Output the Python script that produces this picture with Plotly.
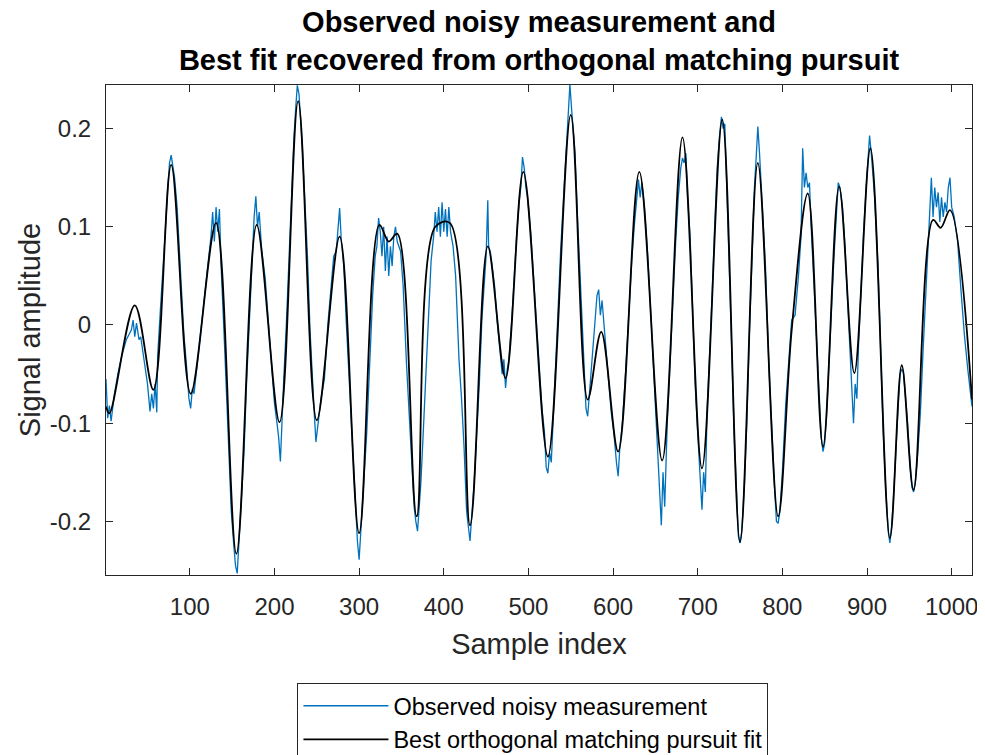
import plotly.graph_objects as go

# black curve: turning points of the OMP fit
fit_x = [1, 5, 35, 57, 78, 101, 131, 155, 179, 206, 228, 250, 277, 300, 324, 335, 345,
         368, 390, 407, 431, 452, 473, 494, 523, 550, 570, 586, 606, 631, 658, 682, 705,
         729, 750, 771, 795, 811, 830, 848, 867, 885, 904, 927, 941, 955, 978, 987, 998, 1024]
fit_y = [-0.083, -0.090, 0.020, -0.066, 0.163, -0.070, 0.104, -0.233, 0.102, -0.099,
         0.228, -0.097, 0.090, -0.212, 0.102, 0.085, 0.093, -0.195, 0.100, 0.104,
         -0.204, 0.080, -0.054, 0.156, -0.134, 0.214, -0.076, -0.007, -0.129, 0.156,
         -0.138, 0.191, -0.146, 0.209, -0.221, 0.165, -0.195, -0.005, 0.134, -0.124,
         0.141, -0.049, 0.180, -0.217, -0.041, -0.168, 0.107, 0.099, 0.117, -0.076]

# blue curve: noisy measurement, estimated sample by sample from the figure
obs_x = [1, 3, 5, 7, 11, 15, 20, 25, 28, 31, 33, 35, 37, 40, 42, 46, 50, 53, 55, 57, 59, 61,
         62, 65, 68, 71, 74, 76, 78, 80, 82, 85, 89, 93, 96, 99, 101, 103, 105, 110, 116,
         121, 125, 127, 129, 131, 133, 135, 137, 141, 145, 149, 152, 154, 156, 158, 160,
         164, 167, 171, 174, 176, 178, 180, 182, 185, 189, 193, 197, 200, 203, 205, 207,
         209, 211, 214, 217, 220, 223, 225, 227, 229, 231, 233, 236, 239, 242, 245, 247,
         249, 251, 253, 255, 259, 263, 267, 270, 273, 275, 277, 279, 282, 285, 289, 292,
         295, 298, 300, 302, 305, 309, 312, 316, 319, 321, 323, 325, 327, 329, 331, 333,
         335, 337, 339, 341, 343, 345, 349, 352, 356, 359, 362, 365, 367, 369, 371, 373,
         376, 379, 382, 385, 388, 390, 392, 394, 396, 398, 400, 402, 404, 406, 408, 411,
         414, 418, 421, 424, 427, 429, 431, 433, 436, 439, 442, 445, 448, 450, 452, 453,
         455, 457, 460, 463, 466, 469, 471, 473, 475, 477, 480, 483, 486, 489, 491, 493,
         495, 497, 499, 503, 508, 512, 516, 519, 521, 523, 525, 527, 530, 534, 538, 541,
         544, 547, 549, 551, 553, 555, 558, 561, 564, 566, 568, 570, 572, 575, 578, 581,
         583, 585, 587, 590, 594, 598, 601, 604, 606, 608, 611, 615, 619, 622, 625, 628,
         630, 632, 634, 637, 641, 645, 649, 652, 655, 657, 659, 661, 664, 668, 671, 674,
         677, 680, 682, 684, 686, 688, 691, 694, 697, 700, 703, 705, 707, 709, 711, 714,
         717, 720, 723, 726, 728, 730, 732, 734, 737, 740, 743, 746, 748, 750, 752, 755,
         758, 761, 764, 767, 769, 771, 773, 776, 780, 784, 788, 791, 793, 795, 797, 800,
         804, 808, 811, 815, 819, 822, 824, 826, 828, 830, 832, 834, 837, 840, 843, 846,
         848, 850, 852, 855, 858, 861, 864, 866, 868, 871, 874, 877, 880, 882, 884, 886,
         888, 890, 893, 896, 899, 901, 903, 905, 909, 913, 916, 919, 922, 925, 927, 929,
         931, 934, 937, 939, 941, 943, 945, 948, 951, 953, 955, 957, 960, 963, 966, 969,
         972, 974, 976, 978, 980, 982, 984, 986, 988, 990, 992, 994, 996, 998, 1000, 1003,
         1007, 1011, 1015, 1019, 1022, 1024]
obs_y = [-0.055, -0.095, -0.082, -0.098, -0.070, -0.050, -0.030, -0.015, -0.010, -0.005,
         0.005, -0.012, 0.002, -0.015, -0.012, -0.035, -0.060, -0.088, -0.070, -0.085,
         -0.060, -0.089, -0.032, 0.012, 0.050, 0.095, 0.140, 0.165, 0.173, 0.160, 0.150,
         0.120, 0.050, -0.010, -0.040, -0.075, -0.085, -0.065, -0.070, -0.030, 0.020,
         0.065, 0.090, 0.115, 0.085, 0.120, 0.095, 0.118, 0.060, -0.020, -0.110, -0.190,
         -0.225, -0.245, -0.253, -0.225, -0.195, -0.130, -0.060, 0.020, 0.075, 0.110,
         0.131, 0.100, 0.115, 0.075, 0.048, 0.000, -0.050, -0.080, -0.100, -0.115, -0.139,
         -0.090, -0.055, 0.000, 0.070, 0.130, 0.190, 0.220, 0.244, 0.235, 0.210, 0.180,
         0.125, 0.070, -0.005, -0.065, -0.090, -0.119, -0.105, -0.085, -0.075, -0.055,
         0.000, 0.040, 0.070, 0.075, 0.095, 0.119, 0.085, 0.060, 0.000, -0.070, -0.130,
         -0.175, -0.220, -0.239, -0.210, -0.175, -0.110, -0.050, 0.030, 0.070, 0.080,
         0.109, 0.095, 0.070, 0.100, 0.055, 0.090, 0.050, 0.080, 0.060, 0.090, 0.100,
         0.085, 0.075, 0.040, -0.040, -0.090, -0.140, -0.185, -0.200, -0.210, -0.185,
         -0.160, -0.105, -0.045, 0.020, 0.065, 0.090, 0.115, 0.095, 0.120, 0.090, 0.125,
         0.095, 0.118, 0.090, 0.120, 0.095, 0.080, 0.050, -0.035, -0.075, -0.125, -0.190,
         -0.205, -0.220, -0.195, -0.160, -0.110, -0.060, 0.005, 0.050, 0.070, 0.127,
         0.080, 0.075, 0.060, 0.040, 0.005, -0.025, -0.050, -0.035, -0.064, -0.045,
         -0.035, 0.000, 0.050, 0.090, 0.125, 0.140, 0.171, 0.160, 0.140, 0.130, 0.090,
         0.020, -0.040, -0.085, -0.110, -0.145, -0.151, -0.130, -0.140, -0.075, -0.005,
         0.075, 0.120, 0.170, 0.205, 0.245, 0.220, 0.200, 0.175, 0.110, 0.055, 0.000,
         -0.040, -0.085, -0.093, -0.070, -0.040, -0.010, 0.030, 0.036, 0.010, 0.025,
         -0.010, -0.050, -0.090, -0.110, -0.140, -0.154, -0.125, -0.100, -0.045, 0.025,
         0.065, 0.100, 0.125, 0.148, 0.130, 0.145, 0.120, 0.070, 0.005, -0.070, -0.110,
         -0.170, -0.204, -0.150, -0.185, -0.100, -0.020, 0.035, 0.085, 0.130, 0.160,
         0.170, 0.165, 0.175, 0.130, 0.090, 0.010, -0.060, -0.110, -0.165, -0.188, -0.150,
         -0.170, -0.090, -0.035, 0.030, 0.100, 0.160, 0.195, 0.212, 0.200, 0.205, 0.150,
         0.075, -0.020, -0.110, -0.185, -0.215, -0.222, -0.210, -0.165, -0.100, -0.010,
         0.070, 0.140, 0.170, 0.202, 0.175, 0.130, 0.060, -0.040, -0.125, -0.170, -0.200,
         -0.202, -0.190, -0.150, -0.080, -0.035, 0.005, 0.010, 0.050, 0.090, 0.180, 0.140,
         0.155, 0.140, 0.145, 0.100, 0.045, -0.020, -0.065, -0.115, -0.129, -0.120,
         -0.095, -0.045, 0.015, 0.070, 0.120, 0.145, 0.140, 0.120, 0.080, 0.025, -0.025,
         -0.070, -0.100, -0.060, -0.075, -0.020, 0.040, 0.095, 0.140, 0.170, 0.193, 0.175,
         0.130, 0.060, -0.030, -0.105, -0.165, -0.210, -0.222, -0.205, -0.180, -0.125,
         -0.080, -0.050, -0.045, -0.048, -0.070, -0.100, -0.145, -0.165, -0.170, -0.160,
         -0.130, -0.090, -0.030, 0.025, 0.085, 0.125, 0.150, 0.110, 0.140, 0.120, 0.135,
         0.105, 0.130, 0.110, 0.125, 0.115, 0.140, 0.150, 0.120, 0.110, 0.085, 0.035,
         -0.010, -0.045, -0.070, -0.083]

x_ticks = [100, 200, 300, 400, 500, 600, 700, 800, 900, 1000]
y_ticks = [-0.2, -0.1, 0, 0.1, 0.2]
y_labels = ["-0.2", "-0.1", "0", "0.1", "0.2"]

AXIS_COLOR = "#262626"
FONT = "Liberation Sans, Arial, Helvetica, sans-serif"

fig = go.Figure()
fig.add_trace(go.Scatter(x=obs_x, y=obs_y, mode="lines", name="Observed noisy measurement",
                         line=dict(color="#0072BD", width=1.3)))
fig.add_trace(go.Scatter(x=fit_x, y=fit_y, mode="lines", name="Best orthogonal matching pursuit fit",
                         line=dict(color="black", width=1.8, shape="spline", smoothing=1.0)))

axis_common = dict(showline=True, linecolor=AXIS_COLOR, linewidth=1, mirror="ticks",
                   ticks="inside", ticklen=7, tickcolor=AXIS_COLOR, showgrid=False,
                   zeroline=False, automargin=False, ticklabeloverflow="allow",
                   tickfont=dict(size=24, color=AXIS_COLOR, family=FONT))

fig.update_xaxes(range=[1, 1024], tickvals=x_ticks, ticklabelstandoff=10,
                 title=dict(text="Sample index", font=dict(size=29, color=AXIS_COLOR, family=FONT),
                            standoff=14),
                 **axis_common)
fig.update_yaxes(range=[-0.2546, 0.2444], tickvals=y_ticks, ticktext=y_labels, ticklabelstandoff=9,
                 title=dict(text="Signal amplitude", font=dict(size=29, color=AXIS_COLOR, family=FONT),
                            standoff=0),
                 **axis_common)

# the page body adds an 8px offset, so the margins are pulled in by that much
fig.update_layout(
    width=985, height=755,
    margin=dict(l=98, r=21, t=77, b=188, autoexpand=False),
    paper_bgcolor="white", plot_bgcolor="white",
    font=dict(family=FONT, color=AXIS_COLOR),
    title=dict(text="<b>Observed noisy measurement and</b><br><b>Best fit recovered from orthogonal matching pursuit</b>",
               x=0.5, xref="paper", xanchor="center", y=0.968, yref="container", yanchor="top",
               font=dict(size=29, color="black", family=FONT)),
    legend=dict(x=0.493, xanchor="center", y=-0.2204, yanchor="top", orientation="v",
                bordercolor=AXIS_COLOR, borderwidth=1, bgcolor="white",
                font=dict(size=23.5, color="black", family=FONT), itemwidth=85,
                tracegroupgap=0),
    showlegend=True,
)

fig.write_html("out.html")
